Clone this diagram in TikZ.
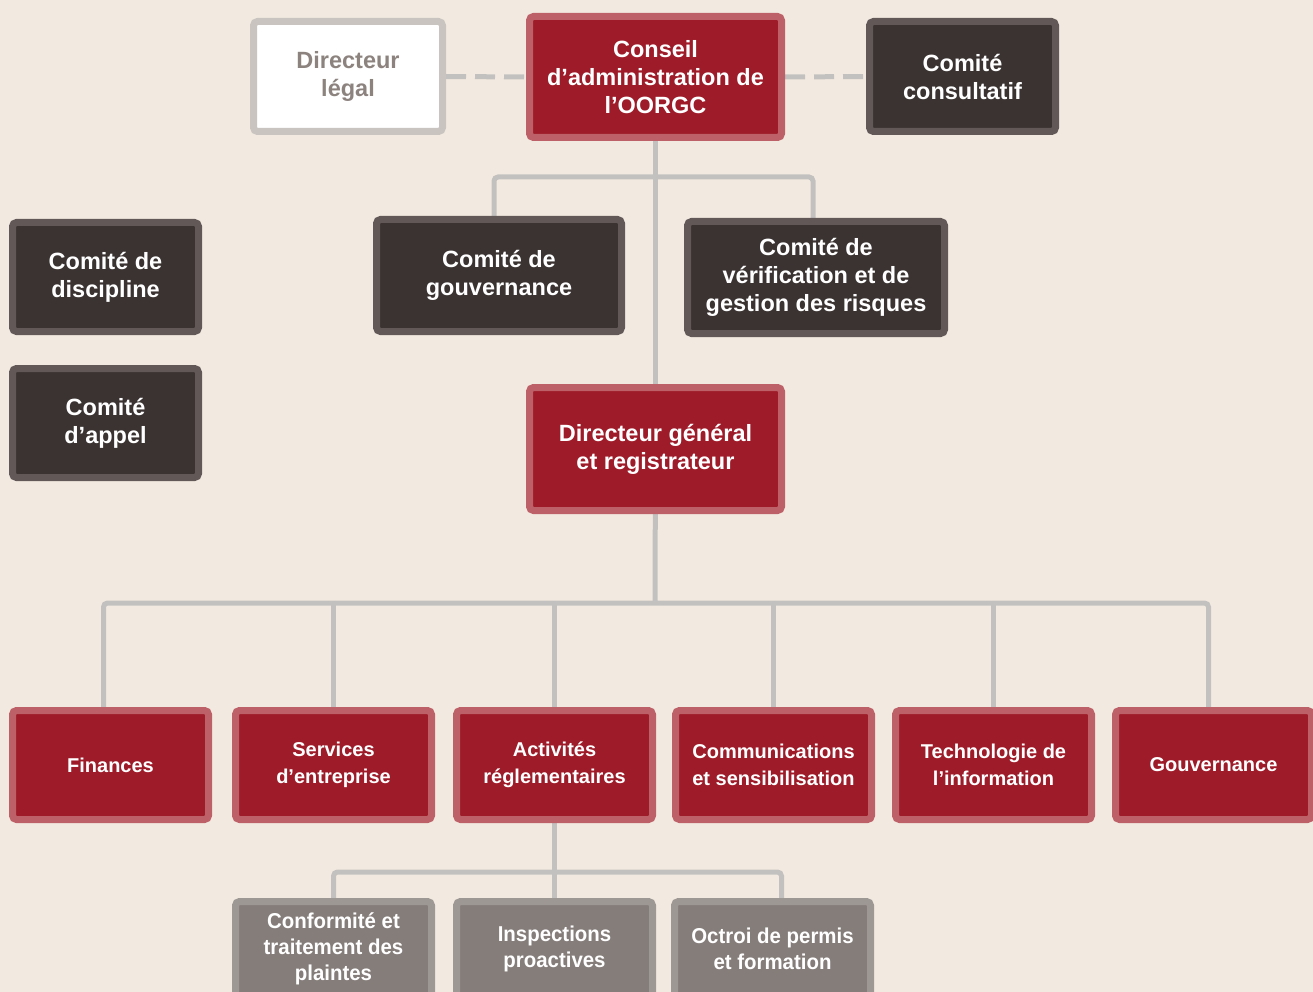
\documentclass[tikz,border=0pt]{standalone}
\usepackage{fontspec}
\setmainfont{Liberation Sans}
\newfontfamily\narrowfont{Liberation Sans}[FakeStretch=0.95]
\usetikzlibrary{backgrounds}
\definecolor{paper}{HTML}{F2EAE0}
\definecolor{oorgcred}{HTML}{9E1B29}
\definecolor{redrim}{HTML}{BE6068}
\definecolor{darkfill}{HTML}{3A3332}
\definecolor{darkrim}{HTML}{635858}
\definecolor{greyfill}{HTML}{857D7A}
\definecolor{greyrim}{HTML}{9E9895}
\definecolor{legalrim}{HTML}{C9C4C0}
\definecolor{legaltext}{HTML}{8C837F}
\definecolor{linkgrey}{HTML}{C3C1BF}

\begin{document}
\begin{tikzpicture}[x=1pt,y=-1pt,
  box/.style={line width=7pt,rounded corners=4pt,inner sep=0pt,align=center,
    font=\fontsize{23.5}{28}\selectfont\bfseries},
  redbox/.style={box,fill=oorgcred,draw=redrim,text=white},
  darkbox/.style={box,fill=darkfill,draw=darkrim,text=white},
  legalbox/.style={box,fill=white,draw=legalrim,text=legaltext},
  unitbox/.style={redbox,minimum width=196pt,minimum height=109pt,
    font=\fontsize{20}{27}\selectfont\bfseries},
  subbox/.style={box,fill=greyfill,draw=greyrim,text=white,minimum width=196pt,
    minimum height=95pt,font=\narrowfont\fontsize{21.5}{26}\selectfont\bfseries},
  conn/.style={linkgrey,line width=5pt,rounded corners=4pt},
  dashconn/.style={linkgrey,line width=5pt,dash pattern=on 20pt off 9pt}]

%frame
\useasboundingbox (0,0) rectangle (1313,992);

%board level
\node[legalbox,minimum width=189pt,minimum height=110pt] (legal) at (348,76.5) {Directeur\\l\'egal};
\node[redbox,minimum width=252pt,minimum height=121pt] (conseil) at (655.5,77) {Conseil\\d’administration de\\l’OORGC};
\node[darkbox,minimum width=186pt,minimum height=110pt] (consult) at (962.5,76.5) {Comit\'e\\consultatif};

%committees
\node[darkbox,minimum width=186pt,minimum height=109pt] (discipline) at (105.5,277) {Comit\'e de\\discipline};
\node[darkbox,minimum width=186pt,minimum height=109pt] (appel) at (105.5,423) {Comit\'e\\d’appel};
\node[darkbox,minimum width=245pt,minimum height=112pt] (gouvcom) at (499,275.5) {Comit\'e de\\gouvernance};
\node[darkbox,minimum width=257pt,minimum height=112pt] (verif) at (816,277.5) {Comit\'e de\\v\'erification et de\\gestion des risques};

%registrar
\node[redbox,minimum width=252pt,minimum height=123pt] (dg) at (655.5,449) {Directeur g\'en\'eral\\et registrateur};

%units
\node[unitbox] (finances) at (110.5,765) {Finances};
\node[unitbox] (services) at (333.5,765) {Services\\d’entreprise};
\node[unitbox] (activites) at (554.5,765) {Activit\'es\\r\'eglementaires};
\node[unitbox] (comms) at (773.5,765) {Communications\\et sensibilisation};
\node[unitbox] (techno) at (993.5,765) {Technologie de\\l’information};
\node[unitbox] (gouvunit) at (1213.5,765) {Gouvernance};

%regulatory sub-units
\node[subbox] (conformite) at (333.5,949) {Conformit\'e et\\traitement des\\plaintes};
\node[subbox] (inspections) at (554.5,949) {Inspections\\proactives};
\node[subbox] (octroi) at (772.5,949) {Octroi de permis\\et formation};

%bus points
\coordinate (topbus) at (655,177);
\coordinate (midbus) at (655,603);
\coordinate (lowbus) at (554,872);

%links
\begin{scope}[on background layer]
\fill[paper] (0,0) rectangle (1313,992);
\draw[dashconn] (legal.east) -- (conseil.west);
\draw[dashconn] (conseil.east) -- (consult.west);
\draw[conn] (conseil) -- (dg);
\draw[conn] ([xshift=-5pt]gouvcom.center) |- (topbus) -| ([xshift=-3pt]verif.center);
\draw[conn] (dg) -- (midbus);
\draw[conn] ([xshift=-7pt]finances.center) |- (midbus) -| ([xshift=-5pt]gouvunit.center);
\foreach \u in {services,activites,comms,techno}
  \draw[conn] (\u) -- (\u |- midbus);
\draw[conn] (activites) -- (inspections);
\draw[conn] (conformite) |- (lowbus) -| ([xshift=9pt]octroi.center);
\end{scope}
\end{tikzpicture}
\end{document}
